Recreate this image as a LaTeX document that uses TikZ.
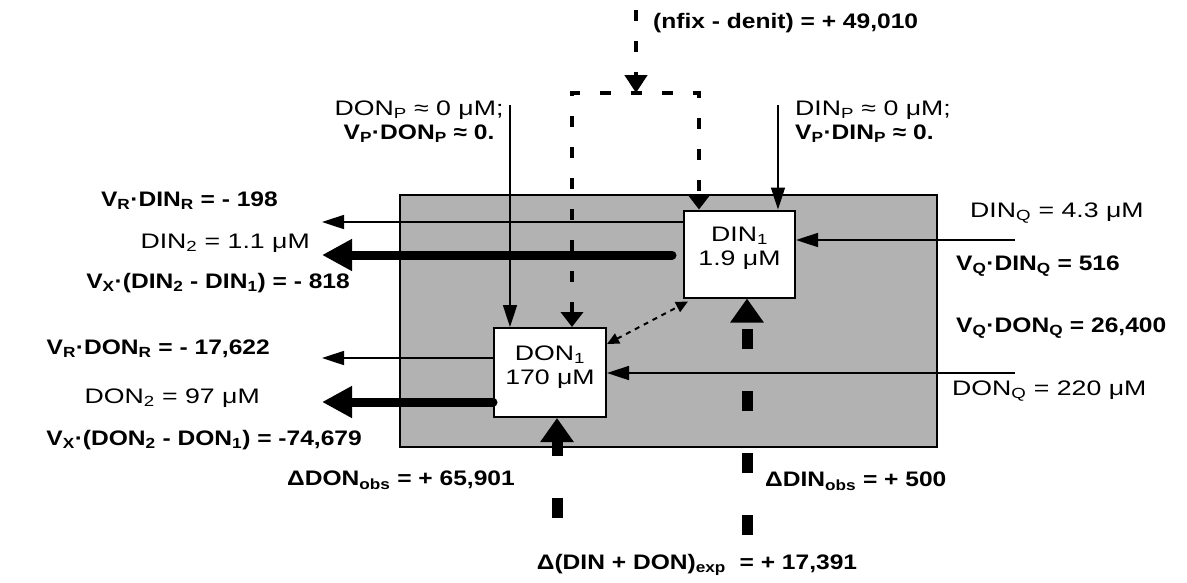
\documentclass[tikz,border=0pt]{standalone}
\usepackage{fontspec}
\setmainfont[UprightFeatures={FakeStretch=1.27},BoldFeatures={FakeStretch=1.17}]{Liberation Sans}
\usepackage{tikz}
\usetikzlibrary{arrows.meta}
\definecolor{bayfill}{RGB}{178,178,178}
\tikzset{
  pool/.style={draw,line width=2pt,fill=white,align=center,inner sep=0pt,minimum width=111pt},
  lab/.style={inner sep=0pt,align=center},
  blab/.style={lab,font=\fontsize{21}{24}\selectfont\bfseries},
  flow/.style={line width=1.6pt,-{Triangle[length=22pt,width=14pt]}},
  mix/.style={line width=9pt,line cap=round,-{Triangle[length=30pt,width=30pt]}},
  obs/.style={line width=11pt,dash pattern=on 20pt off 42pt,-{Triangle[length=24pt,width=32pt]}},
  fix/.style={line width=4.5pt,dash pattern=on 11pt off 20pt,-{Triangle[length=18pt,width=22pt]}},
  remin/.style={line width=2pt,dash pattern=on 5pt off 5pt,{Triangle[length=12pt,width=11pt]}-{Triangle[length=12pt,width=11pt]}}
}

\begin{document}
\begin{tikzpicture}[x=1pt,y=-1pt,font=\fontsize{21}{24}\selectfont]
  \useasboundingbox (0,0) rectangle (1187,582);
  \node[draw,line width=2pt,fill=bayfill,minimum width=537pt,minimum height=252pt,inner sep=0pt] (bay) at (668.5,321) {};
  \node[pool,minimum height=87pt] (din) at (739.5,254) {DIN\textsubscript{1}\\1.9 μM\\[-8pt]\mbox{}};
  \node[pool,minimum height=89pt,minimum width=112pt] (don) at (550,372.5) {DON\textsubscript{1}\\170 μM\\[-10pt]\mbox{}};

  \coordinate (pdon) at (510,105);
  \coordinate (pdin) at (778,105);
  \coordinate (rdin) at (322,222);
  \coordinate (xdin) at (322,255);
  \coordinate (qdin) at (1015,240);
  \coordinate (rdon) at (322,358);
  \coordinate (xdon) at (322,402);
  \coordinate (qdon) at (1015,373);
  \coordinate (donobs) at (557,518);
  \coordinate (dinobs) at (747,535);
  \coordinate (nfix) at (636,10);
  \coordinate (split) at (636,93);
  \coordinate (lft) at (572,93);
  \coordinate (rgt) at (699,93);

  \draw[flow] (pdon) -- (pdon |- don.north);
  \draw[flow] (pdin) -- (pdin |- din.north);
  \draw[flow] (din.west |- rdin) -- (rdin);
  \draw[mix] ([xshift=-11pt]din.west |- xdin) -- (xdin);
  \draw[flow] (qdin) -- (qdin -| din.east);
  \draw[flow] (don.west |- rdon) -- (rdon);
  \draw[mix] (don.west |- xdon) -- (xdon);
  \draw[flow] (qdon) -- (qdon -| don.east);
  \draw[obs] (donobs) -- (donobs |- don.south);
  \draw[obs] (dinobs) -- (dinobs |- din.south);
  \draw[fix] (nfix) -- (split);
  \draw[fix,{Triangle[length=15pt,width=22pt]}-{Triangle[length=15pt,width=22pt]}] (lft |- don.north) -- (lft) -- (rgt) -- (rgt |- din.north);
  \draw[remin] ([yshift=-17pt]don.north east) -- ([xshift=5pt,yshift=-3pt]din.south west);

  \node[blab,anchor=west] (fixlab) at (653,23) {(nfix - denit) = + 49,010};
  \node[lab] (ponlab) at (419,122) {DON\textsubscript{P} ≈ 0 μM;\\\textbf{V\textsubscript{P}·DON\textsubscript{P} ≈ 0.}};
  \node[lab,anchor=west,align=left] (pinlab) at (795,122) {DIN\textsubscript{P} ≈ 0 μM;\\\textbf{V\textsubscript{P}·DIN\textsubscript{P} ≈ 0.}};
  \node[blab,anchor=east] (rdinlab) at (278,201) {V\textsubscript{R}·DIN\textsubscript{R} = - 198};
  \node[lab,anchor=east] (din2lab) at (310,243) {DIN\textsubscript{2} = 1.1 μM};
  \node[blab,anchor=east] (xdinlab) at (350,283) {V\textsubscript{X}·(DIN\textsubscript{2} - DIN\textsubscript{1}) = - 818};
  \node[blab,anchor=east] (rdonlab) at (270,349) {V\textsubscript{R}·DON\textsubscript{R} = - 17,622};
  \node[lab,anchor=east] (don2lab) at (260,398) {DON\textsubscript{2} = 97 μM};
  \node[blab,anchor=east] (xdonlab) at (362,440) {V\textsubscript{X}·(DON\textsubscript{2} - DON\textsubscript{1}) = -74,679};
  \node[lab,anchor=west] (qdinlab) at (970,213) {DIN\textsubscript{Q} = 4.3 μM};
  \node[blab,anchor=west] (vqdinlab) at (956,266) {V\textsubscript{Q}·DIN\textsubscript{Q} = 516};
  \node[blab,anchor=west] (vqdonlab) at (956,328) {V\textsubscript{Q}·DON\textsubscript{Q} = 26,400};
  \node[lab,anchor=west] (qdonlab) at (952,391) {DON\textsubscript{Q} = 220 μM};
  \node[blab,anchor=east] (donobslab) at (515,480) {ΔDON\textsubscript{obs} = + 65,901};
  \node[blab,anchor=west] (dinobslab) at (765,481) {ΔDIN\textsubscript{obs} = + 500};
  \node[blab] (explab) at (697,565) {Δ(DIN + DON)\textsubscript{exp}\ \ = + 17,391};
\end{tikzpicture}
\end{document}
